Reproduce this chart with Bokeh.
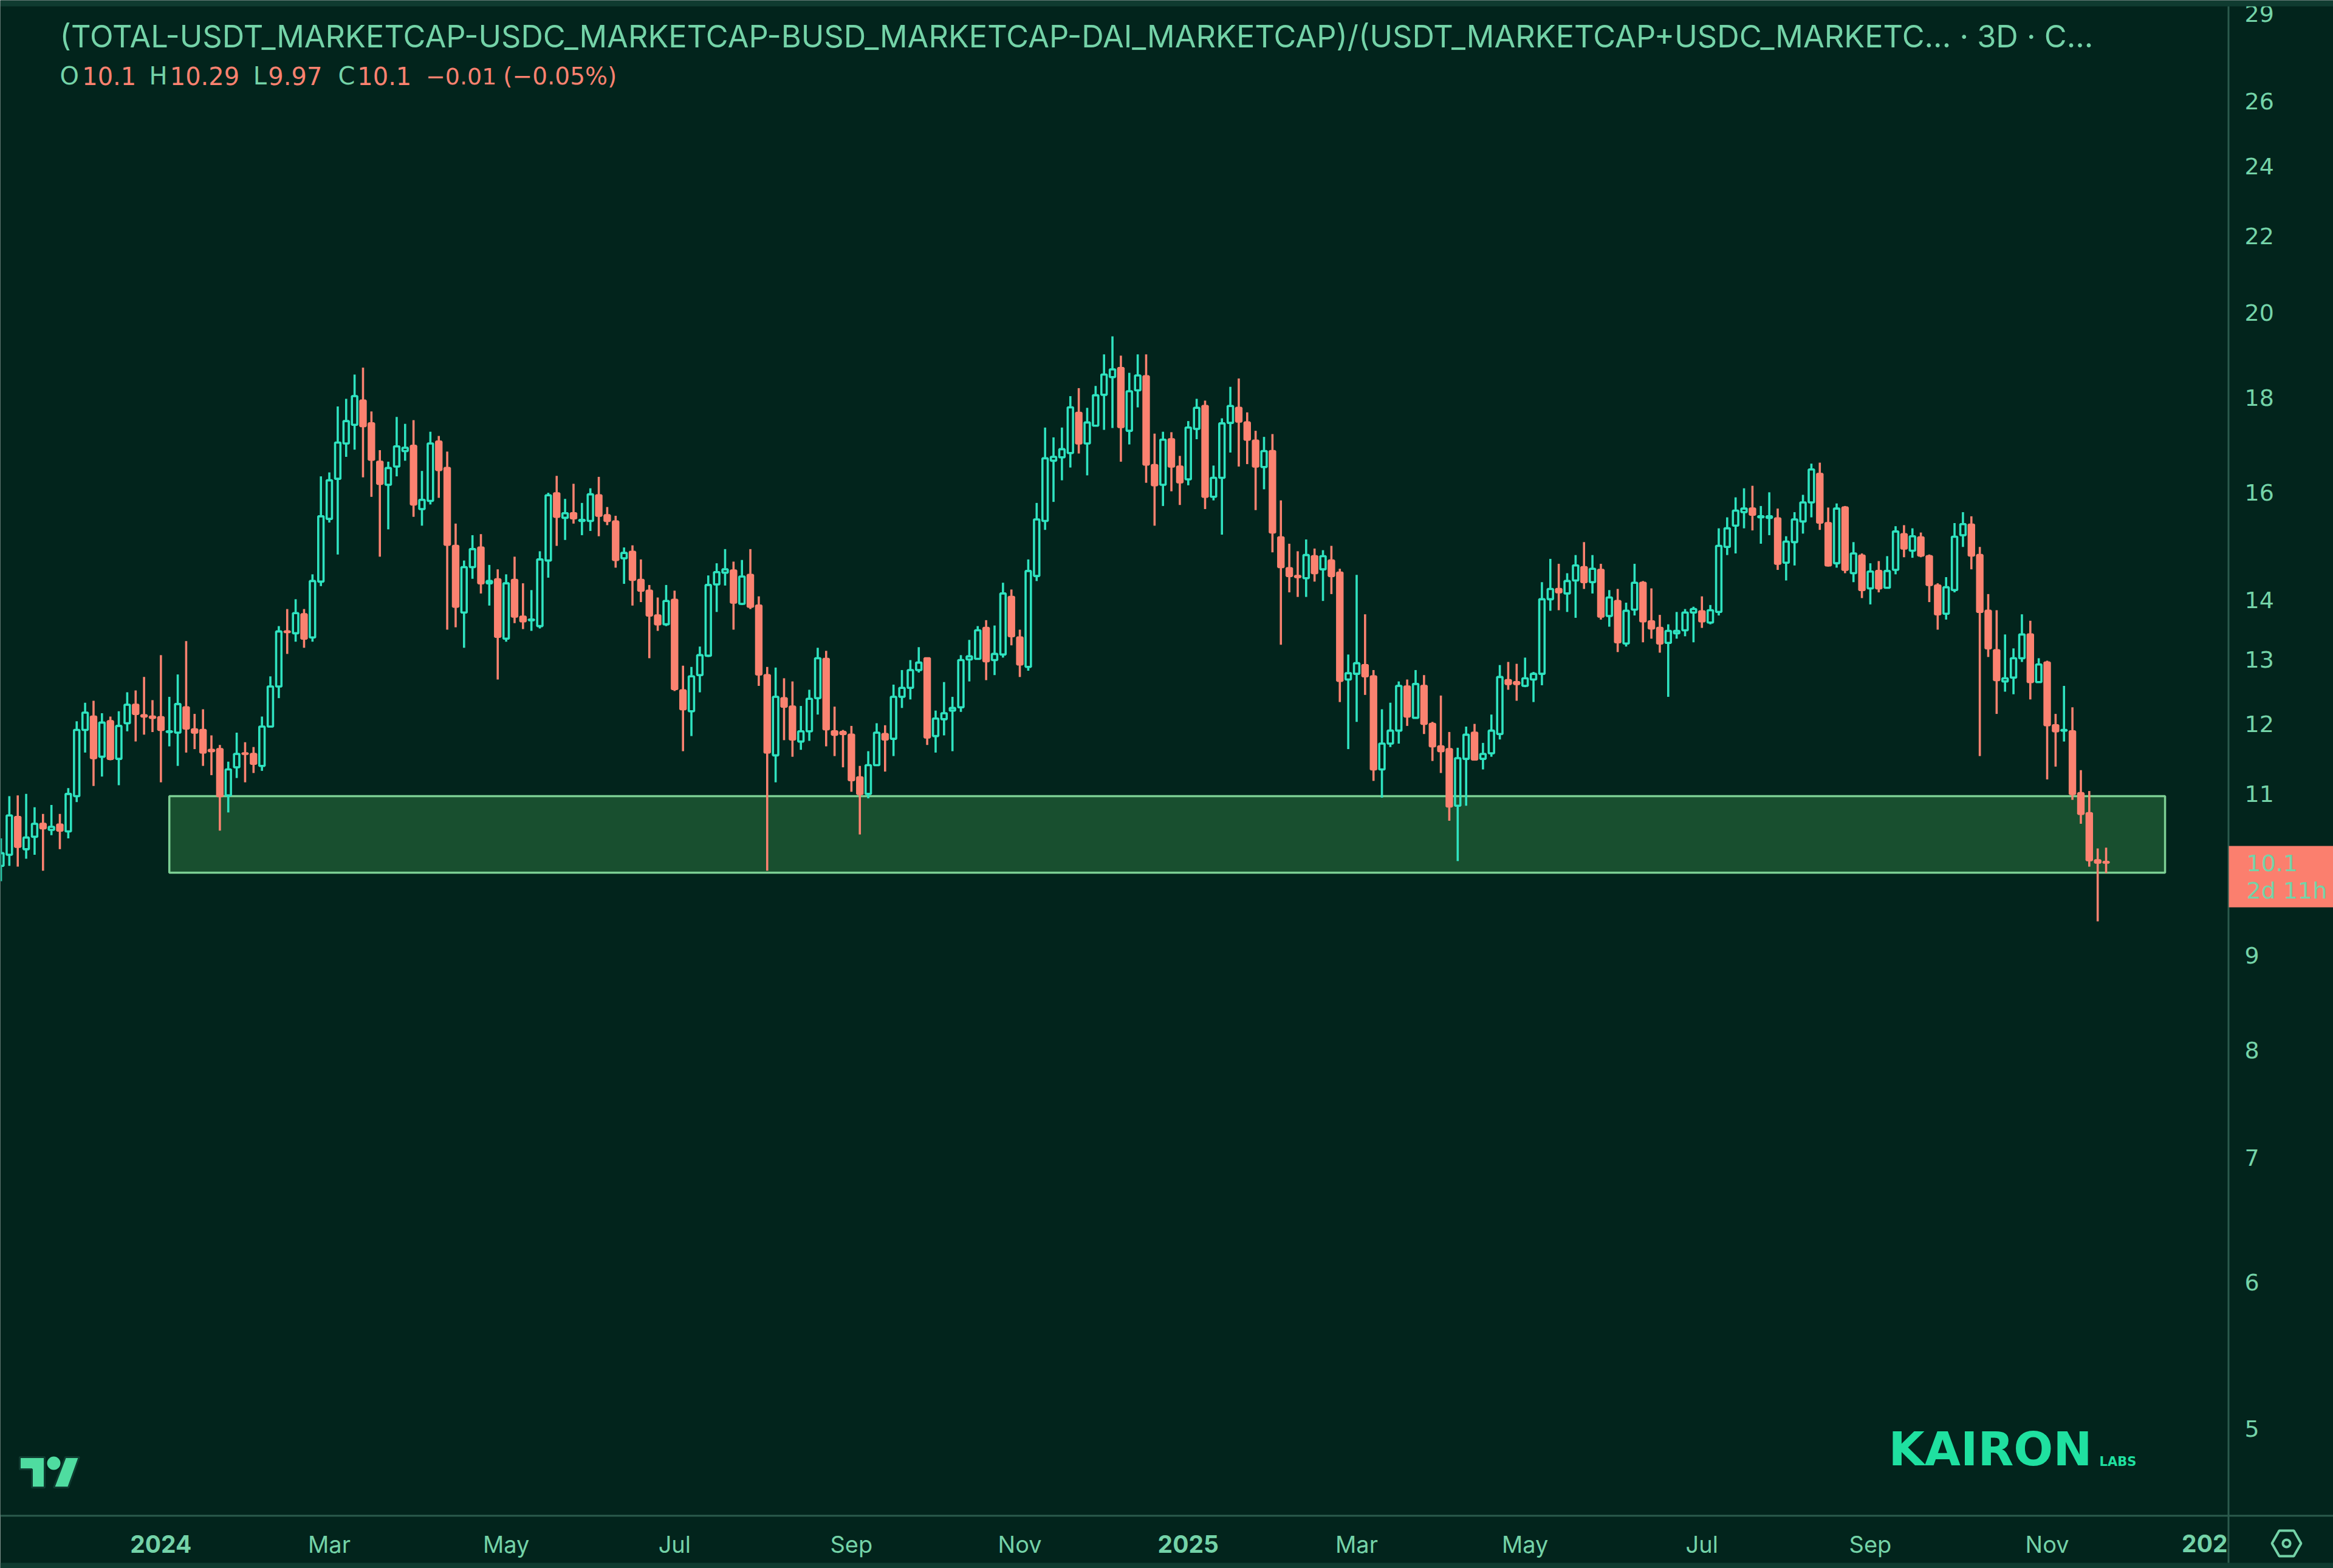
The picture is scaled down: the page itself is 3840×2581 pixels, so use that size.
import numpy as np
import pandas as pd
from bokeh.plotting import figure
from bokeh.models import (Range1d, FixedTicker, Label, BoxAnnotation, PolyAnnotation, LogAxis, DatetimeAxis)
from bokeh.embed import file_html
from bokeh.resources import INLINE

first_bar = "2023-11-05"
opens = [
10.06,10.20,10.69,10.27,10.43,10.60,10.52,10.59,10.50,10.97,
11.91,12.11,11.52,12.04,11.49,12.01,12.29,12.13,12.11,12.10,
11.88,11.87,12.25,11.92,11.91,11.62,11.63,10.98,11.37,11.57,
11.56,11.39,11.96,12.57,13.46,13.43,13.75,13.36,14.32,15.48,
16.27,17.00,17.40,17.93,17.43,16.62,16.15,16.52,16.84,16.95,
15.67,15.83,17.04,16.49,14.97,13.78,14.58,14.94,14.29,14.36,
13.34,14.35,13.71,13.65,13.55,14.70,15.98,15.50,15.59,15.44,
15.44,15.94,15.55,15.43,14.74,14.86,14.35,14.16,13.73,13.58,
14.00,12.51,12.19,12.75,13.06,14.27,14.48,14.52,13.93,14.44,
13.90,12.75,11.54,12.39,12.26,11.74,11.89,12.39,13.01,11.89,
11.88,11.84,11.23,11.00,11.40,11.85,11.78,12.41,12.55,12.83,
13.02,11.82,12.07,12.20,12.25,13.00,13.01,13.52,12.99,13.08,
14.05,13.36,12.88,14.42,15.44,16.64,16.71,16.80,17.66,17.00,
17.38,18.06,18.46,18.67,17.27,18.16,18.48,16.55,16.15,17.09,
16.52,16.26,17.31,17.81,15.91,16.29,17.44,17.77,17.45,17.06,
16.51,16.84,15.13,14.56,14.42,14.38,14.78,14.54,14.70,14.48,
12.68,12.77,12.91,12.73,11.34,11.71,11.90,12.57,12.09,12.58,
12.00,11.67,11.63,10.84,11.49,11.87,11.49,11.57,11.85,12.67,
12.64,12.58,12.68,12.77,14.01,14.19,14.11,14.34,14.58,14.31,
14.53,13.72,13.98,13.26,13.83,14.30,13.63,13.52,13.27,13.43,
13.48,13.78,13.80,13.61,13.79,14.95,15.35,15.61,15.68,15.51,
15.50,15.49,14.66,15.04,15.43,15.80,16.37,15.40,14.65,15.70,
14.47,14.79,14.20,14.51,14.21,14.53,15.19,14.88,15.13,14.78,
14.25,13.76,14.17,15.17,15.37,14.80,13.81,13.15,12.65,12.71,
13.02,13.41,12.64,12.95,11.98,11.90,11.89,11.01,10.74,10.13,
10.11]
highs = [
10.41,10.97,10.98,11.00,10.82,10.73,10.85,10.73,11.08,12.04,
12.32,12.35,12.16,12.11,12.19,12.48,12.51,12.72,12.36,13.07,
12.41,12.76,13.30,12.15,12.22,11.83,11.69,11.45,11.87,11.73,
11.66,12.11,12.73,13.55,13.84,14.01,13.84,14.45,16.32,16.40,
17.80,17.97,18.52,18.68,17.69,16.86,16.62,17.57,17.42,17.50,
16.43,17.25,17.16,16.83,15.39,14.70,15.17,15.19,14.62,14.54,
14.45,14.77,14.29,14.17,14.87,15.99,16.33,15.87,16.17,15.79,
16.08,16.31,15.71,15.54,14.94,14.98,14.72,14.26,14.04,14.26,
14.16,12.90,12.88,13.21,14.43,14.65,14.91,14.68,14.71,14.91,
14.06,12.88,12.87,12.70,12.65,12.27,12.52,13.19,13.14,12.26,
11.91,11.97,11.39,11.60,12.01,11.98,12.60,12.83,12.99,13.20,
13.03,12.20,12.64,12.41,13.07,13.32,13.55,13.65,13.56,14.30,
14.18,13.49,14.72,15.79,17.34,17.13,17.34,18.03,18.21,17.77,
18.26,18.99,19.42,18.96,18.56,18.99,18.99,17.21,17.25,17.24,
16.74,17.48,17.97,17.93,16.54,17.54,18.24,18.43,17.67,17.27,
17.14,17.20,15.84,15.01,14.87,15.09,14.92,14.89,14.97,14.55,
13.08,14.44,13.75,12.83,12.22,12.32,12.65,12.68,12.83,12.75,
12.03,12.43,11.88,11.65,11.96,12.00,11.72,12.14,12.91,12.96,
12.93,13.03,12.80,14.31,14.73,14.64,14.47,14.80,15.04,14.80,
14.64,14.17,14.19,13.95,14.64,14.33,14.20,13.74,13.58,13.79,
13.84,13.88,14.06,13.91,15.30,15.51,15.90,16.08,16.13,15.73,
16.00,15.68,15.15,15.61,15.95,16.58,16.60,15.70,15.78,15.73,
15.04,14.83,14.65,14.69,14.78,15.34,15.36,15.30,15.22,14.81,
14.29,14.40,15.40,15.61,15.53,14.95,14.10,13.82,13.41,13.18,
13.75,13.64,13.02,12.98,12.15,12.58,12.25,11.33,11.04,10.28,
10.29]
lows = [
9.87,10.06,10.05,10.15,10.20,10.00,10.45,10.27,10.41,10.89,
11.58,11.11,11.24,11.47,11.12,11.89,11.74,11.84,11.88,11.16,
11.67,11.39,11.58,11.63,11.39,11.26,10.51,10.75,11.22,11.16,
11.29,11.32,11.96,12.39,13.09,13.29,13.19,13.29,14.24,15.41,
14.81,16.72,16.87,16.30,15.91,14.77,15.28,16.32,16.64,15.52,
15.35,15.76,15.89,13.49,13.53,13.19,14.37,14.11,13.90,12.68,
13.29,13.60,13.50,13.47,13.51,14.39,14.97,15.08,15.39,15.17,
15.25,15.15,15.36,14.57,14.28,13.90,13.96,13.02,13.47,13.55,
12.50,11.60,11.82,12.48,13.04,13.79,14.25,13.49,13.91,13.84,
12.58,10.00,11.16,11.76,11.52,11.62,11.75,12.14,11.67,11.53,
11.37,11.03,10.46,10.94,11.39,11.31,11.53,12.24,12.37,12.79,
11.69,11.58,11.83,11.60,12.18,12.65,13.00,12.67,12.75,13.03,
13.23,12.72,12.82,14.33,15.27,15.81,16.24,16.50,16.79,16.34,
17.38,17.29,17.33,16.62,16.98,17.78,16.19,15.35,15.73,16.02,
15.75,16.14,17.09,15.67,15.84,15.18,16.81,16.52,16.57,15.65,
16.06,14.85,13.24,14.13,14.05,14.05,14.32,13.98,14.10,12.33,
11.63,12.03,12.44,11.18,10.95,11.66,11.71,11.97,12.08,11.85,
11.46,11.29,10.64,10.12,10.84,11.47,11.34,11.52,11.77,12.52,
12.35,12.56,12.33,12.59,13.81,13.82,13.79,13.69,14.19,14.11,
13.66,13.54,13.12,13.21,13.73,13.28,13.34,13.11,12.41,13.34,
13.38,13.28,13.52,13.58,13.73,14.80,14.83,15.30,15.26,15.01,
15.17,14.53,14.34,14.61,15.20,15.51,15.27,14.59,14.57,14.47,
14.31,14.03,13.92,14.13,14.21,14.45,14.76,14.75,14.76,13.96,
13.49,13.66,14.13,14.95,14.54,11.53,13.04,12.15,12.49,12.45,
12.96,12.37,12.63,11.20,11.38,11.74,10.92,10.60,10.05,9.39,
9.97]
closes = [
10.22,10.71,10.30,10.42,10.60,10.54,10.56,10.51,11.00,11.91,
12.17,11.50,12.02,11.49,11.97,12.29,12.15,12.11,12.09,11.91,
11.89,12.30,11.93,11.87,11.58,11.60,10.97,11.34,11.56,11.56,
11.42,11.96,12.57,13.46,13.45,13.77,13.34,14.33,15.53,16.24,
17.02,17.48,18.03,17.37,16.66,16.17,16.49,16.94,16.91,15.76,
15.85,17.00,16.45,14.99,13.88,14.58,14.91,14.29,14.33,13.37,
14.29,13.71,13.63,13.66,14.72,15.94,15.52,15.59,15.49,15.46,
15.96,15.54,15.44,14.71,14.84,14.35,14.16,13.73,13.58,13.98,
12.53,12.22,12.73,13.07,14.26,14.49,14.54,13.95,14.41,13.88,
12.76,11.58,12.41,12.26,11.77,11.89,12.38,13.02,11.92,11.84,
11.85,11.19,11.00,11.40,11.87,11.77,12.41,12.55,12.83,12.95,
11.80,12.08,12.16,12.24,12.99,13.05,13.48,12.97,13.09,14.11,
13.38,12.92,14.51,15.47,16.69,16.72,16.88,17.78,17.00,17.45,
18.05,18.52,18.64,17.35,18.14,18.50,16.56,16.14,17.08,16.52,
16.20,17.34,17.77,15.91,16.29,17.43,17.81,17.47,17.08,16.52,
16.84,15.22,14.58,14.42,14.40,14.80,14.47,14.78,14.42,12.66,
12.78,12.94,12.73,11.34,11.71,11.90,12.58,12.11,12.61,12.00,
11.67,11.60,10.83,11.50,11.84,11.48,11.56,11.90,12.72,12.61,
12.61,12.70,12.77,14.01,14.19,14.13,14.33,14.61,14.31,14.55,
13.71,14.04,13.28,13.81,14.30,13.63,13.51,13.26,13.47,13.47,
13.78,13.84,13.63,13.82,14.97,15.30,15.64,15.68,15.56,15.53,
15.53,14.64,15.05,15.47,15.80,16.46,15.41,14.61,15.68,14.53,
14.83,14.17,14.50,14.20,14.51,15.24,14.92,15.15,14.79,14.26,
13.75,14.22,15.14,15.38,14.79,13.79,13.18,12.67,12.70,13.02,
13.41,12.64,12.92,11.98,11.89,11.91,11.00,10.73,10.13,10.10,
10.10]

month_dates = ["2024-03-01","2024-05-03","2024-07-02","2024-09-03","2024-11-02",
               "2025-03-02","2025-05-01","2025-07-03","2025-09-01","2025-11-03"]
month_labels = ["Mar","May","Jul","Sep","Nov","Mar","May","Jul","Sep","Nov"]
year_dates = ["2024-01-01","2025-01-01"]
year_labels = ["2024","2025"]
price_ticks = [29,26,24,22,20,18,16,14,13,12,11,9,8,7,6,5]
zone_low, zone_high = 9.975, 10.97
zone_start, zone_end = "2024-01-04", "2025-12-15"

title_text = "(TOTAL-USDT_MARKETCAP-USDC_MARKETCAP-BUSD_MARKETCAP-DAI_MARKETCAP)/(USDT_MARKETCAP+USDC_MARKETC...  \u00b7 3D \u00b7 C..."
legend_parts = [("O",40,"g",40),("10.1",55,"r",40),("H",100,"g",40),("10.29",114,"r",40),("L",170,"g",40),
                ("9.97",180,"r",40),("C",227,"g",40),("10.1",240,"r",40),("\u22120.01",286,"r",38),("(\u22120.05%)",338,"r",39)]

BG="#02241c"; BAND="#0f3b30"; RULE="#2b5a4c"; TXT="#74d3a8"
UP="#2fe3c0"; DOWN="#fb8270"; FONT="Inter"; NUMFONT="DejaVu Sans"
AXIS_PRICE = 4.488

def ms(s):
    return pd.Timestamp(s).value / 1e6

n = len(opens)
assert n == len(highs) == len(lows) == len(closes) == 251
dates = pd.date_range(first_bar, periods=n, freq="3D")
t = np.array([d.value / 1e6 for d in dates])
o, h, l, c = map(np.array, (opens, highs, lows, closes))
is_up = c >= o
DAY = 86400000.0
t0 = t[0]
x_left = t0 - 0.072 * 3 * DAY
x_right = t0 + 276.98 * 3 * DAY
axis_x = t0 + 264.5 * 3 * DAY

p = figure(width=3840, height=2581, frame_width=3840, frame_height=2581,
           x_axis_location=None, y_axis_location=None, y_axis_type="log",
           x_range=Range1d(x_left, x_right), y_range=Range1d(4.204, 29.48),
           output_backend="svg", toolbar_location=None,
           background_fill_color=BG, border_fill_color=BG, outline_line_color=None,
           min_border=0)
p.grid.visible = False

# support zone
p.quad(left=[ms(zone_start)], right=[ms(zone_end)], bottom=[zone_low], top=[zone_high],
       fill_color="#184f2f", line_color="#7ccf94", line_width=3.5)

top = np.maximum(o, c); bot = np.minimum(o, c)
for mask, col in ((is_up, UP), (~is_up, DOWN)):
    p.segment(t[mask], h[mask], t[mask], top[mask], line_color=col, line_width=3.6)
    p.segment(t[mask], bot[mask], t[mask], l[mask], line_color=col, line_width=3.6)
p.vbar(t[is_up], width=1.9*DAY, top=top[is_up], bottom=bot[is_up],
       fill_color=None, line_color=UP, line_width=3.6)
p.vbar(t[~is_up], width=1.9*DAY, top=top[~is_up], bottom=bot[~is_up],
       fill_color=DOWN, line_color=DOWN, line_width=3.6)

def box(x0, x1, y0, y1, col):
    p.add_layout(BoxAnnotation(left=x0, right=x1, top=y0, bottom=y1,
                               left_units="canvas", right_units="canvas",
                               top_units="canvas", bottom_units="canvas",
                               fill_color=col, fill_alpha=1, line_color=None))

def txt(s, x, y, size, col=TXT, style="normal", align="left", font=FONT):
    p.add_layout(Label(x=x, y=y, x_units="canvas", y_units="canvas", text=s,
                       text_font=font, text_font_size=f"{size}px", text_color=col,
                       text_font_style=style, text_align=align, text_baseline="middle"))

def poly(xs, ys, fill, line=None, lw=0):
    p.add_layout(PolyAnnotation(xs=list(xs), ys=list(ys),
                                xs_units="canvas", ys_units="canvas",
                                fill_color=fill, fill_alpha=1 if fill else 0,
                                line_color=line, line_alpha=1, line_width=lw))

box(0, 1, 10, 2493, BG)
box(0, 3840, 0, 10, BAND)
box(0, 3840, 2572, 2581, BAND)
box(0, 3840, 2493, 2496, RULE)
box(3666, 3669, 10, 2572, RULE)

# axes pinned inside the full-canvas frame
month_ms = [ms(d) for d in month_dates]
xa = DatetimeAxis(fixed_location=AXIS_PRICE, ticker=FixedTicker(ticks=month_ms),
                  major_label_overrides=dict(zip(month_ms, month_labels)),
                  major_label_text_font_size="38px", major_label_standoff=18)
year_ms = [ms(d) for d in year_dates]
xb = DatetimeAxis(fixed_location=AXIS_PRICE, ticker=FixedTicker(ticks=year_ms),
                  major_label_overrides=dict(zip(year_ms, year_labels)),
                  major_label_text_font_style="bold",
                  major_label_text_font_size="39px", major_label_standoff=26)
ya = LogAxis(fixed_location=axis_x, ticker=FixedTicker(ticks=price_ticks),
             major_label_overrides={v: str(v) for v in price_ticks})
for ax in (xa, xb):
    ax.major_label_text_font = FONT
    ax.major_label_text_color = TXT
    ax.major_tick_line_color = None; ax.minor_tick_line_color = None; ax.axis_line_color = None
ya.major_label_text_font = NUMFONT
ya.major_label_text_font_size = "38px"
ya.major_label_standoff = 21
ya.major_label_text_color = TXT
ya.major_tick_line_color = None; ya.minor_tick_line_color = None; ya.axis_line_color = None
p.add_layout(xa, "below"); p.add_layout(xb, "below"); p.add_layout(ya, "right")

# last-price tag
box(3668, 3840, 1392, 1493, "#fb7f6e")
txt("10.1", 3697, 1420, 38, font=NUMFONT)
txt("2d 11h", 3697, 1465, 38, font=NUMFONT)

# header
txt(title_text, 98, 59, 50.5)
S = 3840/1568
for s, x, k, sz in legend_parts:
    txt(s, x*S, 51*S, sz, TXT if k == "g" else DOWN, font=NUMFONT)

txt("202", 3666, 2540, 39, style="bold", align="right")

# logos
LOGO="#4fdca0"
poly([32,73,73,52,52,32],[2398,2398,2448,2448,2418,2418],LOGO,"#0f3b30",3)
poly([107,130,112,88],[2398,2398,2448,2448],LOGO,"#0f3b30",3)
a=np.linspace(0,2*np.pi,28,endpoint=False)
poly(88+11*np.cos(a),2408+11*np.sin(a),LOGO)
txt("KAIRON", 3108, 2385, 76.5, "#1fe0a0", "bold", font=NUMFONT)
txt("LABS", 3455, 2405, 21, "#1fe0a0", "bold", font=NUMFONT)

# settings glyph
cx,cy=3763,2540
poly([cx-24,cx-12,cx+12,cx+24,cx+12,cx-12],[cy,cy-21,cy-21,cy,cy+21,cy+21],None,TXT,4)
poly(cx+6*np.cos(a),cy+6*np.sin(a),None,TXT,4)

open("out.html", "w").write(file_html(p, INLINE))
